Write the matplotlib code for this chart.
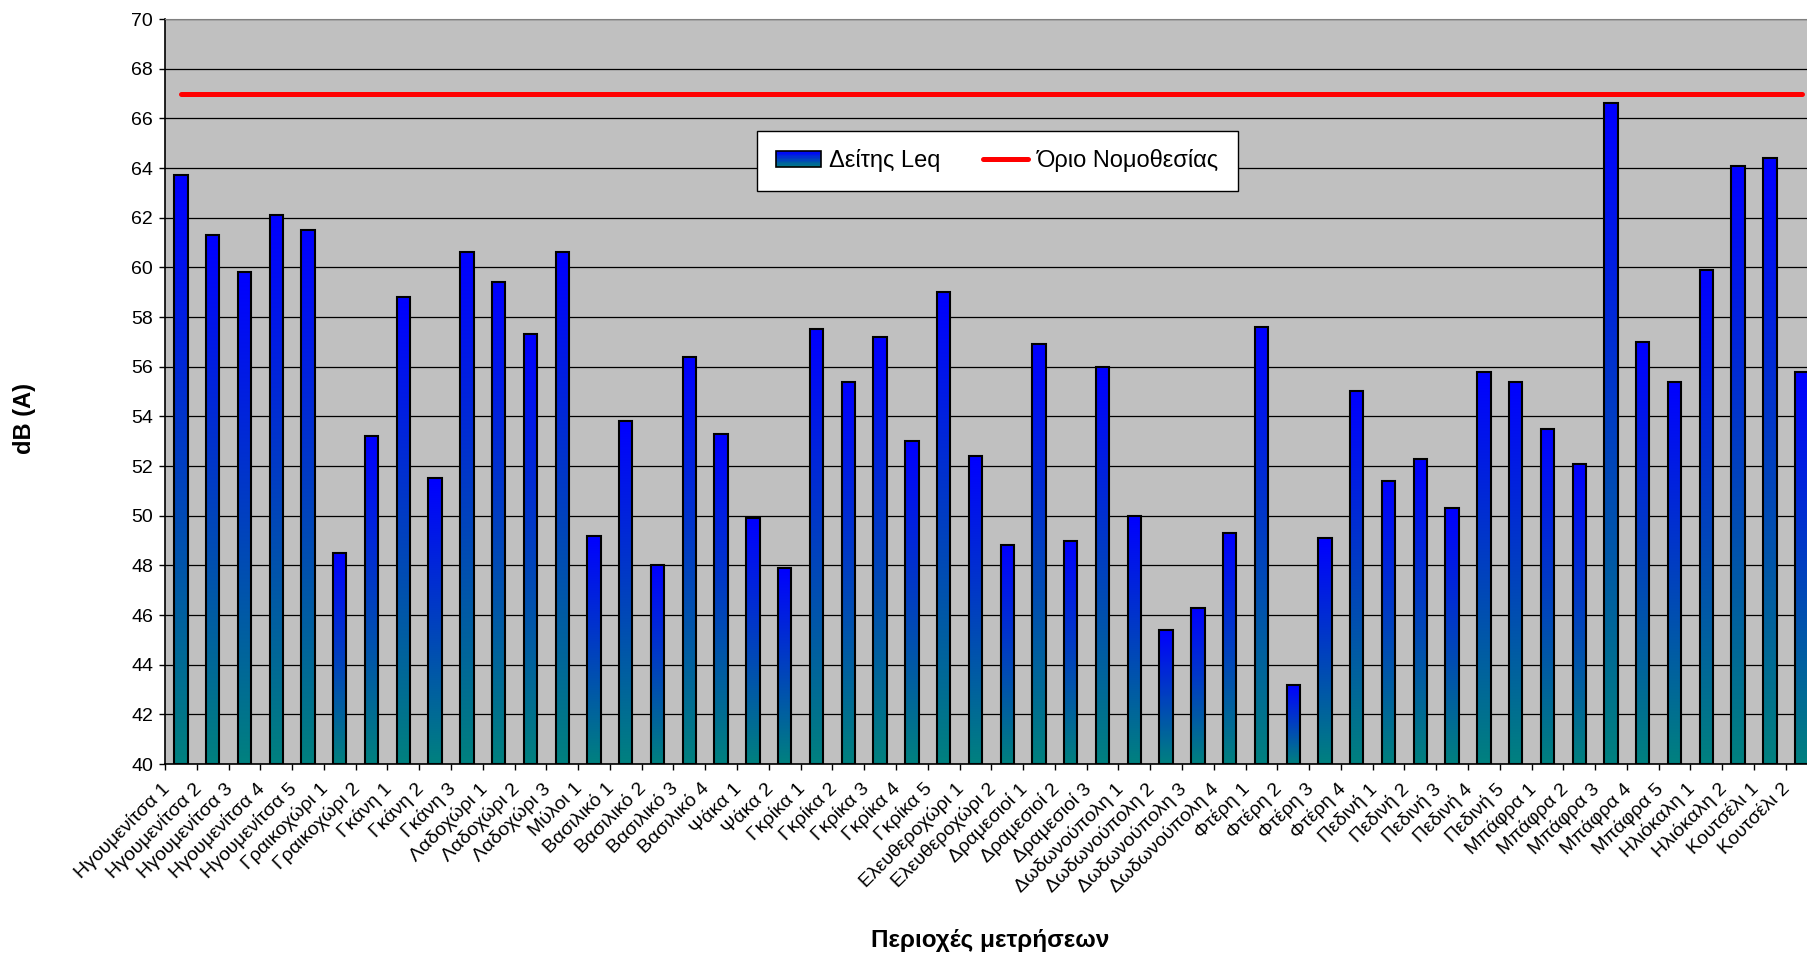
import numpy as np
import matplotlib
matplotlib.use("Agg")
import matplotlib.pyplot as plt
import matplotlib.transforms as mtransforms
from matplotlib.colors import LinearSegmentedColormap
from matplotlib.patches import Rectangle
from matplotlib.lines import Line2D
from matplotlib.legend_handler import HandlerBase

plt.rcParams['font.family'] = ['Liberation Sans', 'DejaVu Sans']

# measurement sites
sites = [
    "Ηγουμενίτσα 1", "Ηγουμενίτσα 2", "Ηγουμενίτσα 3", "Ηγουμενίτσα 4", "Ηγουμενίτσα 5",
    "Γραικοχώρι 1", "Γραικοχώρι 2", "Γκάνη 1", "Γκάνη 2", "Γκάνη 3",
    "Λαδοχώρι 1", "Λαδοχώρι 2", "Λαδοχώρι 3", "Μύλοι 1",
    "Βασιλικό 1", "Βασιλικό 2", "Βασιλικό 3", "Βασιλικό 4", "Ψάκα 1", "Ψάκα 2",
    "Γκρίκα 1", "Γκρίκα 2", "Γκρίκα 3", "Γκρίκα 4", "Γκρίκα 5",
    "Ελευθεροχώρι 1", "Ελευθεροχώρι 2", "Δραμεσιοί 1", "Δραμεσιοί 2", "Δραμεσιοί 3",
    "Δωδωνούπολη 1", "Δωδωνούπολη 2", "Δωδωνούπολη 3", "Δωδωνούπολη 4",
    "Φτέρη 1", "Φτέρη 2", "Φτέρη 3", "Φτέρη 4",
    "Πεδινή 1", "Πεδινή 2", "Πεδινή 3", "Πεδινή 4", "Πεδινή 5",
    "Μπάφρα 1", "Μπάφρα 2", "Μπάφρα 3", "Μπάφρα 4", "Μπάφρα 5",
    "Ηλιόκαλη 1", "Ηλιόκαλη 2", "Κουτσέλι 1", "Κουτσέλι 2",
]

# Leq index, dB(A)
leq = [
    63.7, 61.3, 59.8, 62.1, 61.5,
    48.5, 53.2, 58.8, 51.5, 60.6,
    59.4, 57.3, 60.6, 49.2,
    53.8, 48.0, 56.4, 53.3, 49.9, 47.9,
    57.5, 55.4, 57.2, 53.0, 59.0,
    52.4, 48.8, 56.9, 49.0, 56.0,
    50.0, 45.4, 46.3, 49.3,
    57.6, 43.2, 49.1, 55.0,
    51.4, 52.3, 50.3, 55.8, 55.4,
    53.5, 52.1, 66.6, 57.0, 55.4,
    59.9, 64.1, 64.4, 55.8,
]

# legal limit
limit = [67] * len(sites)

ymin, ymax = 40, 70

grad = LinearSegmentedColormap.from_list("leq", ["#008080", "#0000FF"])


class GradHandler(HandlerBase):
    def create_artists(self, legend, orig_handle, xdescent, ydescent,
                       width, height, fontsize, trans):
        arts = []
        n = 12
        for i in range(n):
            arts.append(Rectangle((-xdescent, -ydescent + height * i / n), width, height / n,
                                  facecolor=grad(i / (n - 1)), edgecolor='none', transform=trans))
        arts.append(Rectangle((-xdescent, -ydescent), width, height, facecolor='none',
                              edgecolor='black', lw=1.2, transform=trans))
        return arts


fig = plt.figure(figsize=(18.07, 9.55), dpi=100)
ax = fig.add_axes([165 / 1807, 191 / 955, 1652.6 / 1807, 745 / 955])
ax.set_facecolor('#C0C0C0')

x = np.arange(len(sites))
w = 0.42
g = np.linspace(1, 0, 64).reshape(-1, 1)
for xi, v in zip(x, leq):
    ax.imshow(g, cmap=grad, aspect='auto', extent=[xi - w / 2, xi + w / 2, ymin, v],
              zorder=2, interpolation='bilinear')
ax.bar(x, np.array(leq) - ymin, bottom=ymin, width=w, facecolor='none',
       edgecolor='black', linewidth=1.5, zorder=3)
ax.plot(x, limit, color='#FF0000', lw=3.6, solid_capstyle='round', zorder=4)

ax.set_xlim(-0.5, len(sites) - 0.5)
ax.set_ylim(ymin, ymax)
ax.set_yticks(np.arange(40, 71, 2))
ax.yaxis.grid(True, color='black', lw=0.9)
ax.set_axisbelow(True)

ax.set_xticks(x)
ax.set_xticklabels(sites, rotation=45, ha='right', va='center', rotation_mode='anchor')
ax.set_xticks(np.arange(-0.5, len(sites), 1), minor=True)
ax.tick_params(axis='x', which='major', length=0, pad=0, labelsize=14)
ax.tick_params(axis='x', which='minor', length=4.5, width=1, direction='out')
ax.tick_params(axis='y', length=4.5, width=1, labelsize=14, pad=4)

offset = mtransforms.ScaledTranslation(-10 / 72, -16 / 72, fig.dpi_scale_trans)
for lab in ax.get_xticklabels():
    lab.set_transform(lab.get_transform() + offset)

ax.spines['top'].set_color('#808080')
ax.spines['right'].set_visible(False)
ax.spines['left'].set_linewidth(1.2)
ax.spines['bottom'].set_linewidth(1.2)

fig.text(990 / 1807, 1 - 940 / 955, "Περιοχές μετρήσεων", ha='center', va='center',
         fontsize=17.5, fontweight='bold')
fig.text(25 / 1807, 1 - 418 / 955, "dB (A)", ha='center', va='center', rotation=90,
         fontsize=17, fontweight='bold')

bar_handle = Rectangle((0, 0), 1, 1)
line_handle = Line2D([], [], color='#FF0000', lw=3.6, solid_capstyle='round')
leg = ax.legend([bar_handle, line_handle], ["Δείτης Leq", "Όριο Νομοθεσίας"],
                handler_map={Rectangle: GradHandler()}, ncol=2, loc='center',
                bbox_to_anchor=(997.5 / 1807, 1 - 161 / 955), bbox_transform=fig.transFigure,
                fontsize=17, frameon=True, fancybox=False, framealpha=1,
                handlelength=1.9, handletextpad=0.35, columnspacing=1.8, borderpad=0.8)
leg.get_frame().set_edgecolor('black')
leg.get_frame().set_linewidth(1.0)
leg.set_zorder(10)

fig.savefig("out.png", dpi=100)
